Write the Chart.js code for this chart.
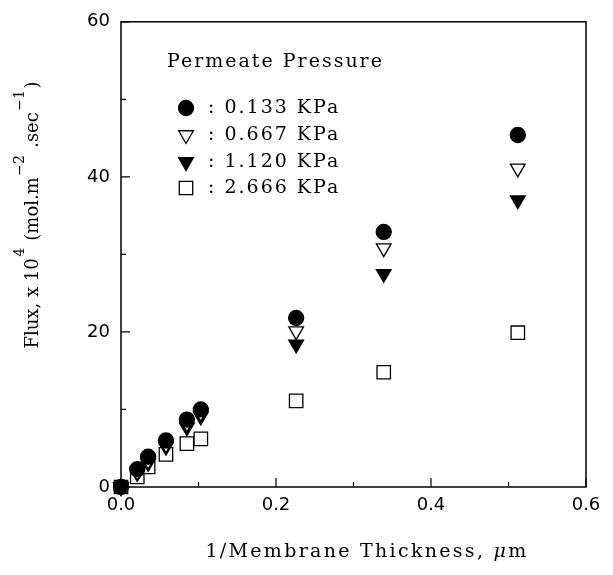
<!DOCTYPE html>
<html>
<head>
<meta charset="utf-8">
<script src="https://cdn.jsdelivr.net/npm/chart.js@4.4.1/dist/chart.umd.min.js"></script>
<style>
    html, body { margin: 0; padding: 0; background: #fff; }
    #wrap { width: 613px; height: 575px; }
</style>
</head>
<body>
<div id="wrap"><canvas id="fluxChart"></canvas></div>
<script>
const thickness = [0, 0.021, 0.035, 0.058, 0.085, 0.103, 0.226, 0.339, 0.512];
const flux0133 = [0, 2.3, 3.9, 6.0, 8.7, 10.0, 21.8, 32.9, 45.4];
const flux0667 = [0, 2.0, 3.4, 5.5, 8.2, 9.6, 20.1, 30.8, 41.1];
const flux1120 = [0, 1.8, 3.1, 5.2, 7.7, 9.1, 18.4, 27.5, 37.0];
const flux2666 = [0, 1.3, 2.6, 4.2, 5.6, 6.2, 11.1, 14.8, 19.9];
const pressures = ['0.133 KPa', '0.667 KPa', '1.120 KPa', '2.666 KPa'];
const xTicks = [0, 0.2, 0.4, 0.6];
const xMinor = [0.1, 0.3, 0.5];
const yTicks = [0, 20, 40, 60];
const yMinor = [10, 30, 50];

const SERIF = '"DejaVu Serif", serif';
const SANS = '"DejaVu Sans", sans-serif';

const markers = [
    { pointStyle: 'circle', rotation: 0, bg: '#000', radius: 7.5 },
    { pointStyle: 'triangle', rotation: 180, bg: '#fff', radius: 8.5 },
    { pointStyle: 'triangle', rotation: 180, bg: '#000', radius: 8.5 },
    { pointStyle: 'rect', rotation: 0, bg: '#fff', radius: 9.5 },
];

const series = [flux0133, flux0667, flux1120, flux2666];

const datasets = series.map((vals, i) => ({
    label: pressures[i],
    data: thickness.map((x, j) => ({ x, y: vals[j] })),
    showLine: false,
    clip: false,
    pointStyle: markers[i].pointStyle,
    rotation: markers[i].rotation,
    pointRadius: markers[i].radius,
    pointHoverRadius: markers[i].radius,
    backgroundColor: markers[i].bg,
    borderColor: '#000',
    borderWidth: 1.3,
}));

// frame, inward ticks, legend and axis titles
const decorations = {
    id: 'decorations',
    afterDraw(chart) {
        const { ctx, chartArea: a, scales: { x, y } } = chart;
        ctx.save();
        ctx.strokeStyle = '#000';
        ctx.lineWidth = 1.5;
        ctx.strokeRect(a.left, a.top, a.right - a.left, a.bottom - a.top);

        ctx.lineWidth = 1.2;
        ctx.beginPath();
        const tick = (vals, len) => {
            vals.forEach((v) => {
                const px = x.getPixelForValue(v);
                ctx.moveTo(px, a.bottom); ctx.lineTo(px, a.bottom - len);
            });
        };
        const ytick = (vals, len) => {
            vals.forEach((v) => {
                const py = y.getPixelForValue(v);
                ctx.moveTo(a.left, py); ctx.lineTo(a.left + len, py);
            });
        };
        tick(xTicks, 9); tick(xMinor, 5);
        ytick(yTicks, 9); ytick(yMinor, 5);
        ctx.stroke();

        // legend
        ctx.fillStyle = '#000';
        ctx.textBaseline = 'middle';
        ctx.textAlign = 'left';
        ctx.font = '19px ' + SERIF;
        ctx.letterSpacing = '2px';
        ctx.fillText('Permeate Pressure', 167, 62);
        const rows = [108, 135, 162, 188];
        pressures.forEach((p, i) => {
            const m = markers[i];
            ctx.fillStyle = m.bg;
            ctx.strokeStyle = '#000';
            ctx.lineWidth = 1.3;
            Chart.helpers.drawPoint(ctx, {
                pointStyle: m.pointStyle, rotation: m.rotation, radius: m.radius, borderWidth: 1.3,
            }, 186, rows[i]);
            ctx.fillStyle = '#000';
            ctx.fillText(': ' + p, 208, rows[i]);
        });

        // x title
        ctx.font = '19px ' + SERIF;
        ctx.letterSpacing = '2.3px';
        ctx.textBaseline = 'alphabetic';
        const xa = '1/Membrane Thickness, ';
        const wa = ctx.measureText(xa).width;
        ctx.font = 'italic 19px ' + SERIF;
        const wmu = ctx.measureText('\u03bc').width;
        ctx.font = '19px ' + SERIF;
        const wm = ctx.measureText('m').width;
        const sx = 367 - (wa + wmu + wm) / 2;
        ctx.fillText(xa, sx, 557);
        ctx.font = 'italic 19px ' + SERIF;
        ctx.fillText('\u03bc', sx + wa, 557);
        ctx.font = '19px ' + SERIF;
        ctx.fillText('m', sx + wa + wmu, 557);

        // y title with superscripts
        ctx.letterSpacing = '0px';
        const parts = [
            ['Flux, x 10', false], ['4', true], [' (mol.m', false], ['\u22122', true],
            [' .sec', false], ['\u22121', true], [')', false],
        ];
        const fontFor = (sup) => (sup ? '14px ' : '18px ') + SERIF;
        let total = 0;
        parts.forEach(([s, sup]) => { ctx.font = fontFor(sup); total += ctx.measureText(s).width + (sup ? 3 : 0); });
        ctx.translate(38, 215);
        ctx.rotate(-Math.PI / 2);
        let px = -total / 2;
        parts.forEach(([s, sup]) => {
            ctx.font = fontFor(sup);
            ctx.fillText(s, px + (sup ? 1.5 : 0), sup ? -14 : 0);
            px += ctx.measureText(s).width + (sup ? 3 : 0);
        });
        ctx.restore();
    },
};

new Chart(document.getElementById('fluxChart'), {
    type: 'scatter',
    data: { datasets },
    options: {
        responsive: true,
        maintainAspectRatio: false,
        animation: false,
        events: [],
        layout: { padding: { top: 20, right: 27, left: 0, bottom: 0 } },
        plugins: { legend: { display: false }, tooltip: { enabled: false } },
        scales: {
            x: {
                type: 'linear',
                min: 0, max: 0.6,
                afterBuildTicks: (s) => { s.ticks = xTicks.map((v) => ({ value: v })); },
                afterFit: (s) => { s.height = 88; },
                grid: { display: false, drawTicks: false },
                border: { display: false },
                ticks: {
                    padding: 8,
                    color: '#000',
                    font: { family: SANS, size: 18 },
                    callback: (v) => v.toFixed(1),
                },
            },
            y: {
                type: 'linear',
                min: 0, max: 60,
                afterBuildTicks: (s) => { s.ticks = yTicks.map((v) => ({ value: v })); },
                afterFit: (s) => { s.width = 121; },
                grid: { display: false, drawTicks: false },
                border: { display: false },
                ticks: {
                    padding: 11,
                    color: '#000',
                    font: { family: SANS, size: 18 },
                    callback: (v) => String(v),
                },
            },
        },
    },
    plugins: [decorations],
});
</script>
</body>
</html>
